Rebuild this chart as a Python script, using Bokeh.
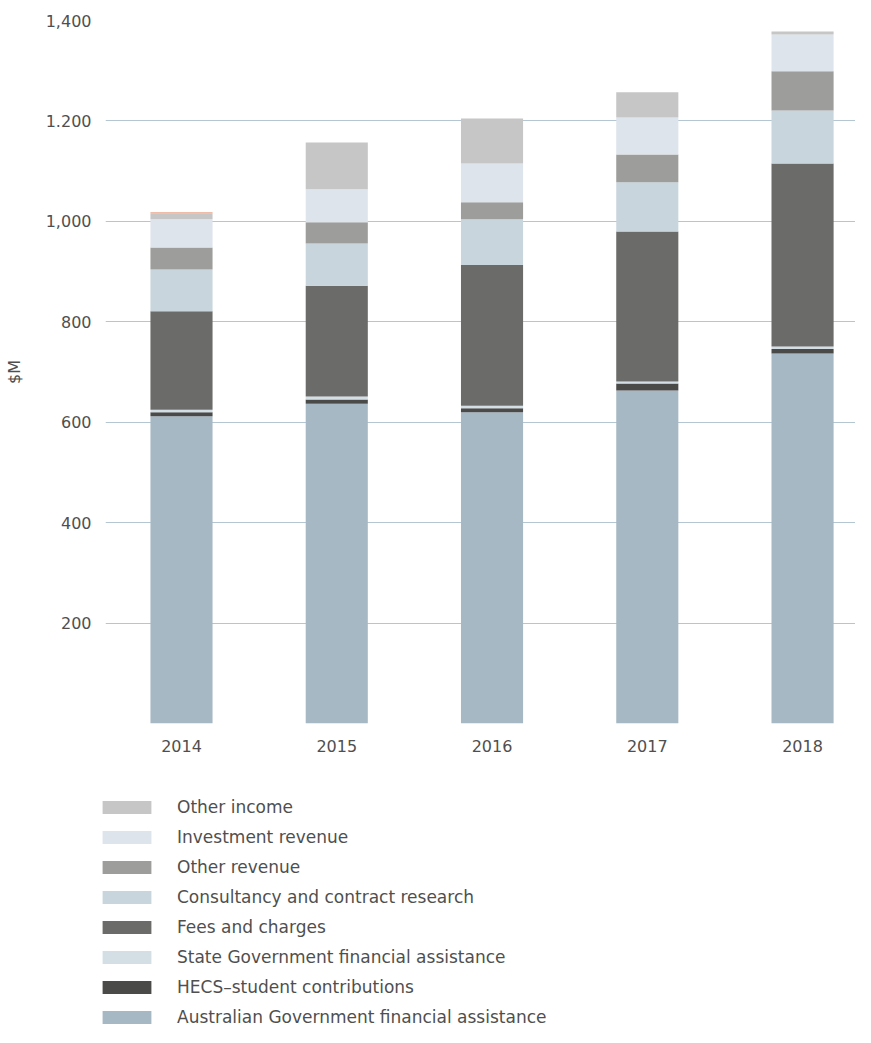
from bokeh.plotting import figure
from bokeh.layouts import column
from bokeh.models import ColumnDataSource, FixedTicker, Legend, LegendItem, Range1d
from bokeh.embed import file_html
from bokeh.resources import INLINE

years = [2014, 2015, 2016, 2017, 2018]
aus_gov = [612, 637, 620, 663, 737]
hecs = [8, 8, 8, 14, 9]
state_gov = [5, 6, 5, 4, 5]
fees = [196, 221, 280, 299, 364]
consultancy = [83, 84, 91, 98, 106]
other_revenue = [44, 42, 34, 55, 78]
investment = [56, 66, 77, 74, 73]
other_income = [12, 93, 90, 50, 6]
unlabelled = [2, 0, 0, 0, 0]

series_keys = ["aus", "hecs", "state", "fees", "cons", "orev", "inv", "oinc", "extra"]
series_names = ["Australian Government financial assistance", "HECS\u2013student contributions",
                "State Government financial assistance", "Fees and charges",
                "Consultancy and contract research", "Other revenue", "Investment revenue",
                "Other income", None]
colors = ["#a6b8c3", "#4a4a48", "#d3dee5", "#6b6b69", "#c8d5dd", "#9d9d9b", "#dde4eb", "#c6c6c6", "#eba58a"]

y_ticks = [0, 200, 400, 600, 800, 1000, 1200, 1400]
y_labels = ["", "200", "400", "600", "800", "1,000", "1.200", "1,400"]

data = dict(x=years, aus=aus_gov, hecs=hecs, state=state_gov, fees=fees,
            cons=consultancy, orev=other_revenue, inv=investment,
            oinc=other_income, extra=unlabelled)
src = ColumnDataSource(data)

FONT = "DejaVu Sans"
TXT = "#4f4f4f"
W = 855

p = figure(width=W, height=770, output_backend="svg", toolbar_location=None,
           x_range=Range1d(2013.5105, 2018.341), y_range=Range1d(0, 1400),
           min_border_left=105, min_border_right=0, min_border_top=20, min_border_bottom=47)
p.outline_line_color = None
p.background_fill_color = "white"

p.vbar_stack(series_keys, x="x", width=0.4, source=src, color=colors, line_color=None)

p.xgrid.grid_line_color = None
p.ygrid.grid_line_color = "#b4c6d1"
p.ygrid.grid_line_width = 1.2
p.ygrid.ticker = FixedTicker(ticks=y_ticks)

p.yaxis.ticker = FixedTicker(ticks=y_ticks)
p.yaxis.major_label_overrides = {t: l for t, l in zip(y_ticks, y_labels)}
p.xaxis.ticker = FixedTicker(ticks=years)
p.xaxis.major_label_overrides = {y: str(y) for y in years}
for ax in (p.xaxis[0], p.yaxis[0]):
    ax.axis_line_color = None
    ax.major_tick_line_color = None
    ax.minor_tick_line_color = None
    ax.major_label_text_font = FONT
    ax.major_label_text_font_size = "16px"
    ax.major_label_text_color = TXT
p.yaxis.major_label_standoff = 8
p.xaxis.major_label_standoff = 10
p.yaxis.axis_label = "$M"
p.yaxis.axis_label_text_font = FONT
p.yaxis.axis_label_text_font_size = "16px"
p.yaxis.axis_label_text_font_style = "normal"
p.yaxis.axis_label_text_color = TXT
p.yaxis.axis_label_standoff = 19

# Legend panel: same stacked series, drawn outside its (empty) view so only the legend shows
lg = figure(width=W, height=257, output_backend="svg", toolbar_location=None,
            x_range=Range1d(0, 1), y_range=Range1d(0, 1),
            x_axis_type=None, y_axis_type=None,
            min_border_left=0, min_border_right=0, min_border_top=0, min_border_bottom=0)
lg.outline_line_color = None
lg.grid.visible = False
lsrc = ColumnDataSource(data)
lrs = lg.vbar_stack(series_keys, x="x", width=0.4, source=lsrc, color=colors, line_color=None)

items = []
for r, name in zip(lrs, series_names):
    if name is not None:
        items.append(LegendItem(label=name, renderers=[r]))
items = items[::-1]

legend = Legend(items=items, location=(96, 0), orientation="vertical",
                glyph_width=61, glyph_height=16, label_height=20, label_standoff=20,
                spacing=10, padding=0, margin=0, border_line_color=None,
                background_fill_alpha=0,
                label_text_font=FONT, label_text_font_size="17px", label_text_color=TXT)
lg.add_layout(legend, "center")

open("out.html", "w").write(file_html(column(p, column(lg, spacing=0), spacing=0), INLINE))
